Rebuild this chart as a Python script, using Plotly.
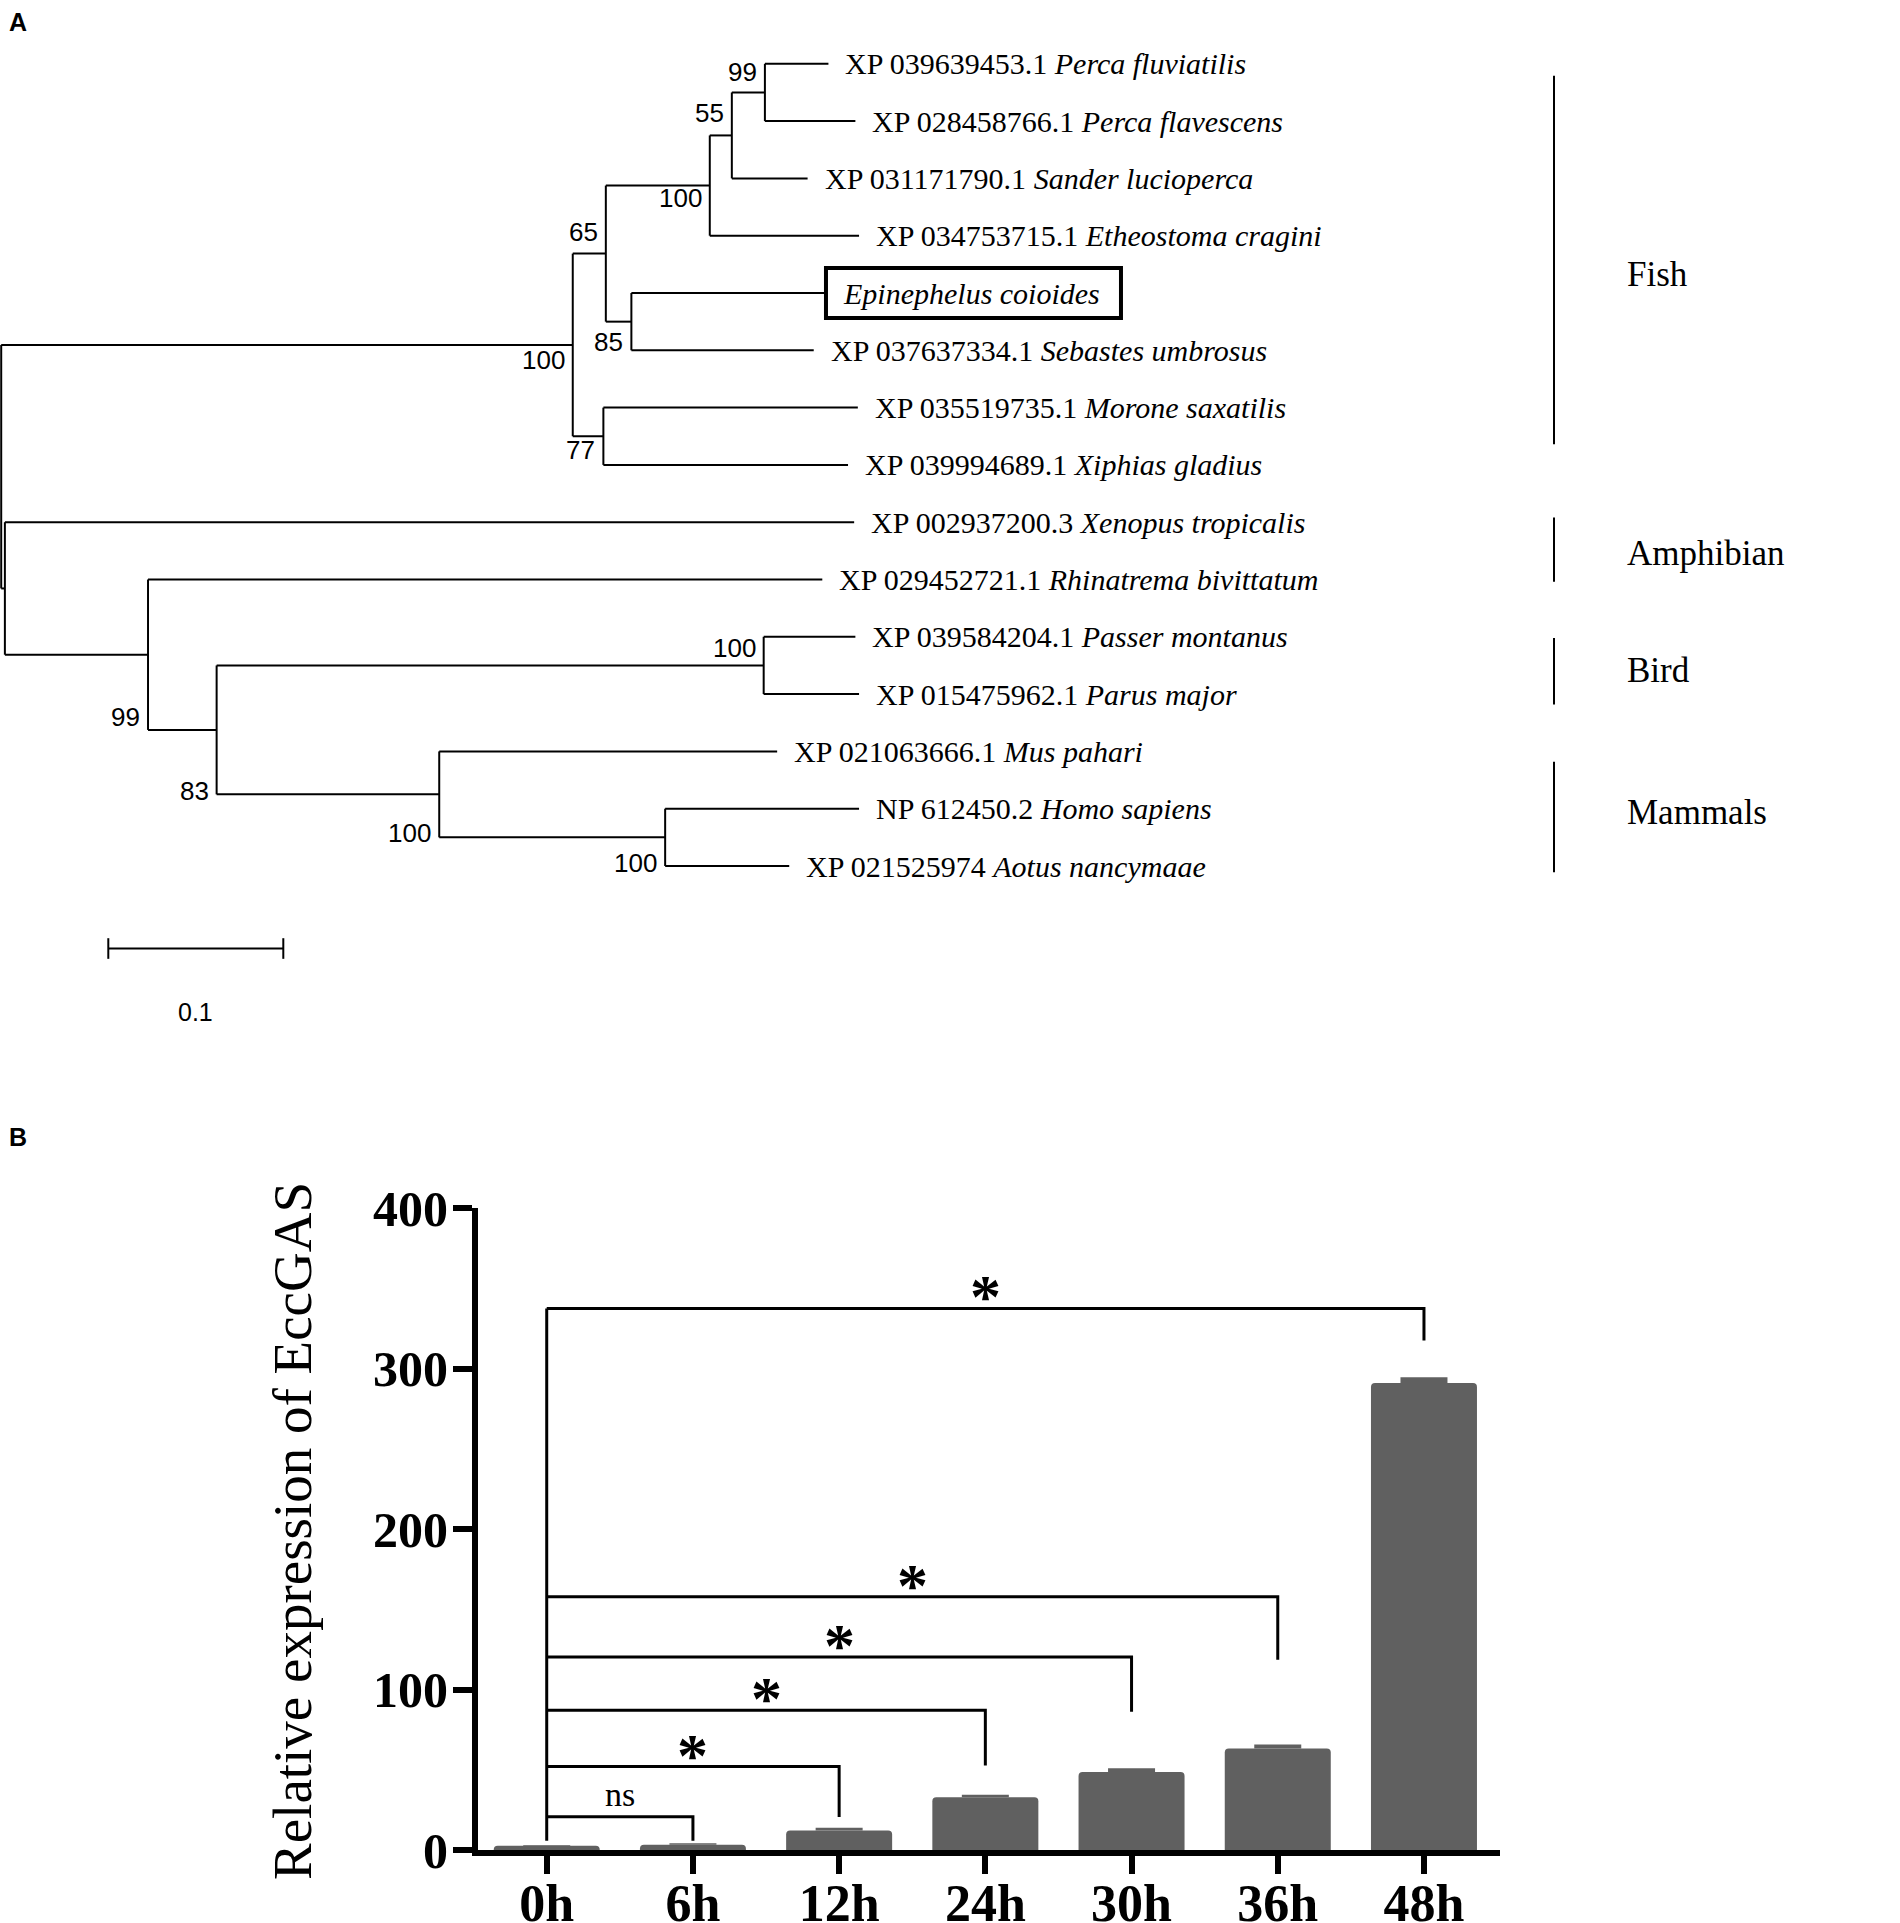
import plotly.graph_objects as go

# ---------------- panel A: neighbour-joining tree ----------------
tip_accession = ["XP 039639453.1", "XP 028458766.1", "XP 031171790.1", "XP 034753715.1", "",
                 "XP 037637334.1", "XP 035519735.1", "XP 039994689.1", "XP 002937200.3",
                 "XP 029452721.1", "XP 039584204.1", "XP 015475962.1", "XP 021063666.1",
                 "NP 612450.2", "XP 021525974"]
tip_species = ["Perca fluviatilis", "Perca flavescens", "Sander lucioperca", "Etheostoma cragini",
               "Epinephelus coioides", "Sebastes umbrosus", "Morone saxatilis", "Xiphias gladius",
               "Xenopus tropicalis", "Rhinatrema bivittatum", "Passer montanus", "Parus major",
               "Mus pahari", "Homo sapiens", "Aotus nancymaae"]
tip_parent = ["n99", "n99", "n55", "n100b", "n85", "n85", "n77", "n77",
              "nlow", "n99b", "nbird", "nbird", "nmam", "nhom", "nhom"]
tip_length = [0.0363, 0.0517, 0.0433, 0.0853, 0.1112, 0.1042, 0.1454, 0.1398,
              0.4853, 0.3853, 0.0524, 0.0545, 0.1931, 0.1108, 0.0709]

node_id = ["root", "nfish", "n65", "n100b", "n55", "n99", "n85", "n77",
           "nlow", "n99b", "n83", "nbird", "nmam", "nhom"]
node_parent = [None, "root", "nfish", "n65", "n100b", "n55", "n65", "nfish",
               "root", "nlow", "n99b", "n83", "n83", "nmam"]
node_length = [0.0, 0.3266, 0.0189, 0.0594, 0.0126, 0.0189, 0.0146, 0.0175,
               0.0021, 0.0818, 0.0392, 0.3126, 0.1272, 0.1291]
node_support = [None, 100, 65, 100, 55, 99, 85, 77, None, 99, 83, 100, 100, 100]

groups = ["Fish", "Amphibian", "Bird", "Mammals"]
group_first = [0, 8, 10, 12]
group_last = [7, 9, 11, 14]
scale_length = 0.1

# ---------------- panel B: qPCR time course ----------------
times = ["0h", "6h", "12h", "24h", "30h", "36h", "48h"]
expression = [2.6, 3.2, 12.2, 32.9, 48.6, 63.3, 290.9]
expression_err = [0.5, 1.0, 1.6, 1.6, 2.4, 2.4, 3.7]
compare_to = ["6h", "12h", "24h", "30h", "36h", "48h"]
compare_top = [20.7, 52.0, 87.1, 120.3, 157.8, 337.4]
compare_end = [5.8, 20.5, 52.7, 86.2, 118.5, 317.5]
compare_mark = ["ns", "*", "*", "*", "*", "*"]

W, H = 1900, 1923
SERIF = "Liberation Serif"
SANS = "Liberation Sans"

# ---- tree geometry ----
depth = {}
for n, p, l in zip(node_id, node_parent, node_length):
    depth[n] = 0.0 if p is None else depth[p] + l

children = {n: [] for n in node_id}
for n, p in zip(node_id, node_parent):
    if p is not None:
        children[p].append(("node", n))
for i, p in enumerate(tip_parent):
    children[p].append(("tip", i))

ypos = {}


def node_y(n):
    ys = []
    for kind, c in children[n]:
        ys.append(c if kind == "tip" else node_y(c))
    ypos[n] = sum(ys) / len(ys)
    return ypos[n]


node_y("root")

lx, ly = [], []
for n, p in zip(node_id, node_parent):
    if p is not None:
        lx += [depth[p], depth[n], None]
        ly += [ypos[n], ypos[n], None]
    cys = [c if k == "tip" else ypos[c] for k, c in children[n]]
    lx += [depth[n], depth[n], None]
    ly += [min(cys), max(cys), None]
tip_end = []
for i, (p, l) in enumerate(zip(tip_parent, tip_length)):
    tip_end.append(depth[p] + l)
    lx += [depth[p], depth[p] + l, None]
    ly += [i, i, None]

fig = go.Figure()
fig.add_trace(go.Scatter(x=lx, y=ly, mode="lines", line=dict(color="black", width=2),
                         xaxis="x2", yaxis="y2", hoverinfo="skip", showlegend=False))

# scale bar
sb_x0, sb_y = 0.0612, 15.44
fig.add_trace(go.Scatter(x=[sb_x0, sb_x0 + scale_length, None, sb_x0, sb_x0, None,
                            sb_x0 + scale_length, sb_x0 + scale_length],
                         y=[sb_y, sb_y, None, sb_y - 0.18, sb_y + 0.18, None, sb_y - 0.18, sb_y + 0.18],
                         mode="lines", line=dict(color="black", width=2),
                         xaxis="x2", yaxis="y2", hoverinfo="skip", showlegend=False))

ann = []
ann.append(dict(text=str(scale_length), x=sb_x0 + scale_length / 2, y=16.55, xref="x2", yref="y2",
                showarrow=False, font=dict(family=SANS, size=25, color="black")))

support_dy = {"nfish": 0.27, "n65": -0.38, "n100b": 0.22, "n55": -0.39, "n99": -0.36,
              "n85": 0.36, "n77": 0.24, "n99b": 1.08, "n83": 1.07, "nbird": -0.31,
              "nmam": 0.67, "nhom": 0.45}
for n, s in zip(node_id, node_support):
    if s is None:
        continue
    ann.append(dict(text=str(s), x=depth[n], y=ypos[n] + support_dy[n], xref="x2", yref="y2",
                    xanchor="right", yanchor="middle", xshift=-6, showarrow=False,
                    font=dict(family=SANS, size=26, color="black")))

for i, (acc, sp) in enumerate(zip(tip_accession, tip_species)):
    txt = f"{acc} <i>{sp}</i>" if acc else f"<i>{sp}</i>"
    ann.append(dict(text=txt, x=tip_end[i], y=i, xref="x2", yref="y2", xanchor="left",
                    yanchor="middle", xshift=15, showarrow=False,
                    font=dict(family=SERIF, size=30, color="black")))

shapes = []
# highlight box around the grouper sequence
shapes.append(dict(type="rect", xref="x2", yref="y2", xsizemode="pixel", ysizemode="pixel",
                   xanchor=tip_end[4], yanchor=4, x0=0, x1=295, y0=-25, y1=25,
                   line=dict(color="black", width=4)))

# group brackets: small insets (rows) so the bars sit like in the original figure
group_bar_inset = [(0.21, -0.36), (-0.08, 0.04), (0.02, 0.18), (0.18, 0.11)]
group_label_row = [3.68, 8.54, 10.58, 13.06]
for g, a, b, (ia, ib), lr in zip(groups, group_first, group_last, group_bar_inset, group_label_row):
    shapes.append(dict(type="line", xref="paper", yref="y2", x0=1554 / W, x1=1554 / W,
                       y0=a + ia, y1=b + ib, line=dict(color="black", width=2)))
    ann.append(dict(text=g, x=1625 / W, y=lr, xref="paper", yref="y2",
                    xanchor="left", yanchor="middle", showarrow=False,
                    font=dict(family=SERIF, size=35, color="black")))

ann.append(dict(text="<b>A</b>", x=18 / W, y=1 - 22 / H, xref="paper", yref="paper",
                xanchor="center", yanchor="middle", showarrow=False,
                font=dict(family=SANS, size=25, color="black")))
ann.append(dict(text="<b>B</b>", x=18 / W, y=1 - 1137 / H, xref="paper", yref="paper",
                xanchor="center", yanchor="middle", showarrow=False,
                font=dict(family=SANS, size=25, color="black")))

# ---- panel B ----
fig.add_trace(go.Bar(x=times, y=expression, width=0.725,
                     marker=dict(color="#606060", line=dict(width=0), cornerradius=4),
                     error_y=dict(type="data", array=expression_err, arrayminus=[0] * len(times),
                                  symmetric=False, width=0, thickness=47, color="#606060"),
                     showlegend=False, hoverinfo="skip"))

bx, by = ["0h", "0h", None], [compare_end[0], max(compare_top), None]
for t, top, end in zip(compare_to, compare_top, compare_end):
    bx += ["0h", t, t, None]
    by += [top, top, end, None]
fig.add_trace(go.Scatter(x=bx, y=by, mode="lines", line=dict(color="black", width=3),
                         showlegend=False, hoverinfo="skip", cliponaxis=False))

for t, top, m in zip(compare_to, compare_top, compare_mark):
    k = times.index(t)
    if m == "ns":
        ann.append(dict(text=m, x=k / 2, y=top, xref="x", yref="y", yanchor="bottom",
                        yshift=2, showarrow=False, font=dict(family=SERIF, size=34, color="black")))
    else:
        ann.append(dict(text=m, x=k / 2, y=top, xref="x", yref="y", yanchor="bottom",
                        yshift=-24, showarrow=False,
                        font=dict(family=SERIF, size=62, color="black", weight="bold")))

ann.append(dict(text="Relative expression of EccGAS", x=292 / W, y=1 - 1531 / H,
                xref="paper", yref="paper", textangle=-90, xanchor="center", yanchor="middle",
                showarrow=False, font=dict(family=SERIF, size=55, color="black")))

fig.update_layout(
    template="none",
    width=W, height=H, margin=dict(l=0, r=0, t=0, b=0, pad=0),
    paper_bgcolor="white", plot_bgcolor="white",
    annotations=ann, shapes=shapes,
    xaxis2=dict(domain=[0, 1], range=[-1.2 / 1750, (W - 1.2) / 1750], visible=False,
                anchor="y2", automargin=False),
    yaxis2=dict(domain=[0.45, 1], range=[(0.55 * H - 63.8) / 57.3, -63.8 / 57.3],
                visible=False, anchor="x2", automargin=False),
    xaxis=dict(domain=[478 / W, 1500 / W], range=[-0.47, 6.52], type="category",
               showline=True, linewidth=6, linecolor="black", ticks="outside",
               ticklen=18, tickwidth=6, tickcolor="black", showgrid=False, zeroline=False,
               tickfont=dict(family=SERIF, size=52, color="black", weight="bold"),
               ticklabelstandoff=-15, anchor="y", automargin=False),
    yaxis=dict(domain=[(H - 1850) / H, (H - 1208) / H], range=[0, 400],
               tickvals=[0, 100, 200, 300, 400], showline=True, linewidth=6,
               linecolor="black", ticks="outside", ticklen=19, tickwidth=6,
               tickcolor="black", showgrid=False, zeroline=False,
               tickfont=dict(family=SERIF, size=50, color="black", weight="bold"),
               ticklabelstandoff=-5, anchor="x", automargin=False),
)

fig.write_html("out.html", config={"displayModeBar": False},
               post_script="document.body.style.margin='0';")
